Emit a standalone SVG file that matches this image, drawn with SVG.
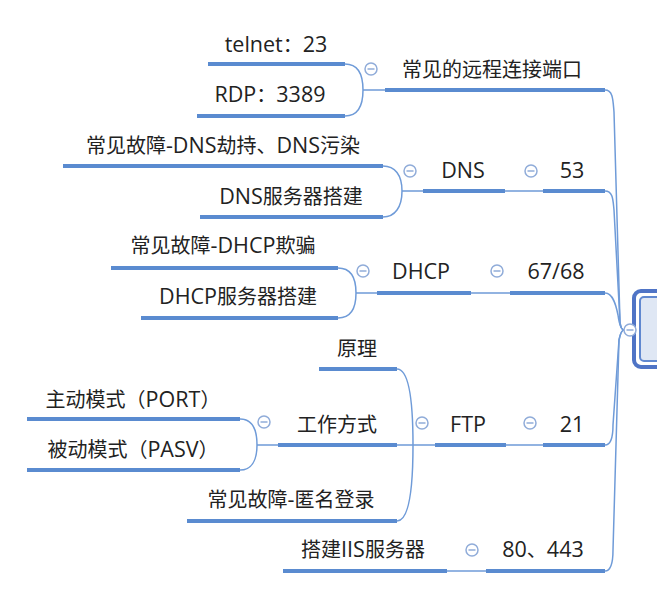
<svg xmlns="http://www.w3.org/2000/svg" width="657" height="591" viewBox="0 0 657 591">
<style>
.t{font-family:"Open Sans","Noto Sans CJK SC",sans-serif;font-size:20px;fill:#222;text-anchor:middle}
.l{font-size:21.5px}
.u{stroke:#5a8bd0;stroke-width:4;fill:none}
.c{stroke:#6f9bd8;stroke-width:1.5;fill:none}
.m{fill:#fff;stroke:#90acd9;stroke-width:1.5}
.mm{stroke:#90acd9;stroke-width:1.5}
</style>
<defs>
<g id="col"><circle r="6" class="m"/><line x1="-3.5" y1="0" x2="3.5" y2="0" class="mm"/></g>
</defs>
<rect width="657" height="591" fill="#fff"/>
<g id="connectors">
<path class="c" d="M385,90 L363,90 M363,90 C363,72 356,64 345,64 M363,90 C363,108 356,116 345,116"/>
<path class="c" d="M423,191 L402,191 M402,191 C402,175 395,166 383,166 M402,191 C402,207 395,217 383,217 M505,191 L543,191"/>
<path class="c" d="M377,293 L356,293 M356,293 C356,277 350,268 338,268 M356,293 C356,309 350,318 338,318 M471,293 L510,293"/>
<path class="c" d="M435,445 L413,445 M413,445 C413,395 408,369 397,369 M413,445 L397,445 M413,445 C413,495 408,521 397,521 M506,445 L543,445"/>
<path class="c" d="M278,445 L257,445 M257,445 C257,428 251,419 240,419 M257,445 C257,461 251,470 240,470"/>
<path class="c" d="M447,571 L486,571"/>
<path class="c" d="M605,90 C613,90 613,100 614,112 L620,322 Q621,330 624,330"/>
<path class="c" d="M605,191 C613,191 613,200 614,210 L620,322 Q621,330 624,330"/>
<path class="c" d="M605,293 C613,293 616,305 618,315 Q620,330 624,330"/>
<path class="c" d="M605,445 C611,445 613,437 613,425 L619,340 Q621,330 624,330"/>
<path class="c" d="M605,571 C611,571 613,562 613,550 L619,340 Q621,330 624,330"/>
</g>
<g id="root">
<rect x="634" y="291" width="40" height="76" rx="7" fill="#fff" stroke="#4f74c6" stroke-width="4"/>
<rect x="640" y="297" width="40" height="64" rx="4" fill="#dfe7f4" stroke="#6088d0" stroke-width="2"/>
<use href="#col" x="630" y="330"/>
</g>
<g id="n-remote"><path class="u" d="M385,90 H605"/><text class="t" x="492" y="77">常见的远程连接端口</text><use href="#col" x="371" y="69"/></g>
<g id="n-telnet"><path class="u" d="M208,64 H345"/><text class="t" x="276" y="52"><tspan class="l">telnet</tspan>：<tspan class="l">23</tspan></text></g>
<g id="n-rdp"><path class="u" d="M197,116 H345"/><text class="t" x="270" y="102"><tspan class="l">RDP</tspan>：<tspan class="l">3389</tspan></text></g>
<g id="n-53"><path class="u" d="M543,191 H605"/><text class="t l" x="572" y="178">53</text><use href="#col" x="531" y="171"/></g>
<g id="n-dns"><path class="u" d="M423,191 H505"/><text class="t l" x="463" y="178">DNS</text><use href="#col" x="410" y="171"/></g>
<g id="n-dns1"><path class="u" d="M63,166 H383"/><text class="t" x="223" y="153">常见故障<tspan class="l">-DNS</tspan>劫持、<tspan class="l">DNS</tspan>污染</text></g>
<g id="n-dns2"><path class="u" d="M200,217 H383"/><text class="t" x="291" y="204"><tspan class="l">DNS</tspan>服务器搭建</text></g>
<g id="n-6768"><path class="u" d="M510,293 H605"/><text class="t l" x="556" y="279">67/68</text><use href="#col" x="497" y="271"/></g>
<g id="n-dhcp"><path class="u" d="M377,293 H471"/><text class="t l" x="421" y="279">DHCP</text><use href="#col" x="363" y="271"/></g>
<g id="n-dhcp1"><path class="u" d="M111,268 H338"/><text class="t" x="223" y="253">常见故障<tspan class="l">-DHCP</tspan>欺骗</text></g>
<g id="n-dhcp2"><path class="u" d="M141,318 H338"/><text class="t" x="238" y="304"><tspan class="l">DHCP</tspan>服务器搭建</text></g>
<g id="n-21"><path class="u" d="M543,445 H605"/><text class="t l" x="572" y="432">21</text><use href="#col" x="530" y="423"/></g>
<g id="n-ftp"><path class="u" d="M435,445 H506"/><text class="t l" x="468" y="432">FTP</text><use href="#col" x="422" y="423"/></g>
<g id="n-yuanli"><path class="u" d="M319,369 H397"/><text class="t" x="357" y="356">原理</text></g>
<g id="n-work"><path class="u" d="M278,445 H397"/><text class="t" x="337" y="432">工作方式</text><use href="#col" x="264" y="422"/></g>
<g id="n-anon"><path class="u" d="M187,521 H397"/><text class="t" x="291" y="507">常见故障<tspan class="l">-</tspan>匿名登录</text></g>
<g id="n-port"><path class="u" d="M27,419 H240"/><text class="t" x="133" y="407">主动模式（<tspan class="l">PORT</tspan>）</text></g>
<g id="n-pasv"><path class="u" d="M27,470 H240"/><text class="t" x="133" y="457">被动模式（<tspan class="l">PASV</tspan>）</text></g>
<g id="n-80"><path class="u" d="M486,571 H605"/><text class="t" x="543" y="557"><tspan class="l">80</tspan>、<tspan class="l">443</tspan></text><use href="#col" x="472" y="550"/></g>
<g id="n-iis"><path class="u" d="M283,571 H447"/><text class="t" x="363" y="557">搭建<tspan class="l">IIS</tspan>服务器</text></g>
</svg>
